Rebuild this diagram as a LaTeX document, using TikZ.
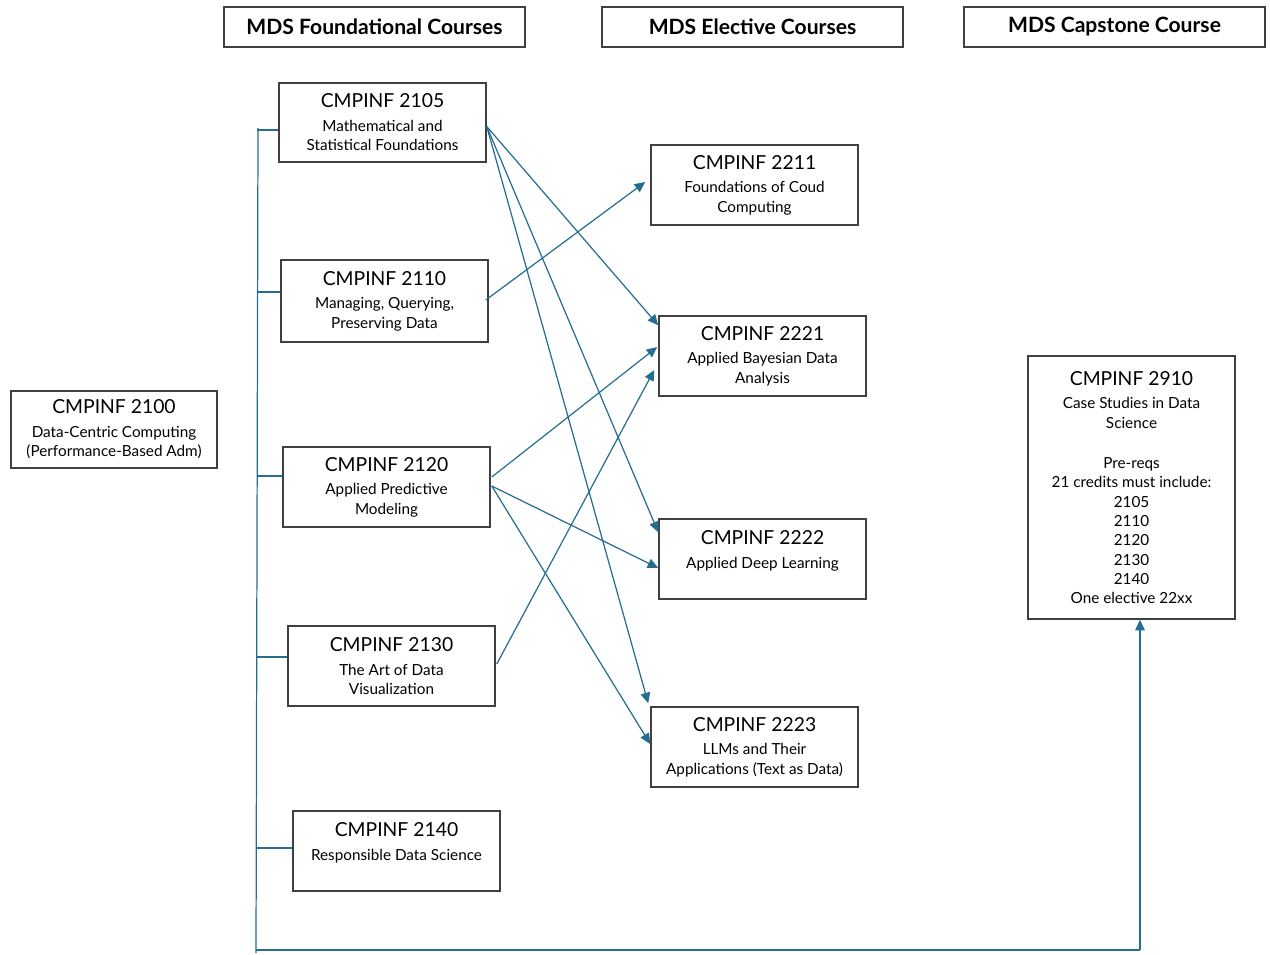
\documentclass[tikz,border=0pt]{standalone}
\usepackage{fontspec}
\setmainfont{Lato}
\usetikzlibrary{calc,arrows.meta}
\definecolor{linkblue}{RGB}{38,110,145}
\definecolor{boxgray}{RGB}{64,64,64}
\tikzset{
  course/.style={draw=boxgray,line width=0.9pt,minimum width=4.14cm,minimum height=1.6cm,
    align=center,inner sep=2pt,font=\fontsize{8.7}{11}\selectfont},
  header/.style={draw=boxgray,line width=0.9pt,minimum width=6.02cm,minimum height=0.8cm,
    font=\fontsize{12}{14}\selectfont\bfseries},
  link/.style={linkblue,line width=0.7pt},
  arr/.style={link,-{Triangle[length=6pt,width=5.5pt]}}
}
\newcommand{\ctitle}[1]{{\fontsize{11}{13}\selectfont #1}\\[2.5pt]}
\begin{document}
\begin{tikzpicture}[x=0.02cm,y=-0.02cm]
  \useasboundingbox (0,0) rectangle (1270,954);
  % column headers
  \node[header] (hdrF) at (374.5,27) {MDS Foundational Courses};
  \node[header] (hdrE) at (752.5,27) {MDS Elective Courses};
  \node[header] (hdrC) at (1114.5,27) {MDS Capstone Course};
  % foundational courses
  \node[course,minimum height=1.58cm] (n2105) at (382.5,122.5) {\ctitle{CMPINF 2105}Mathematical and\\Statistical Foundations};
  \node[course,minimum height=1.64cm] (n2110) at (384.5,301) {\ctitle{CMPINF 2110}Managing, Querying,\\Preserving Data};
  \node[course] (n2120) at (386.5,487) {\ctitle{CMPINF 2120}Applied Predictive\\Modeling};
  \node[course] (n2130) at (391.5,666) {\ctitle{CMPINF 2130}The Art of Data\\Visualization};
  \node[course] (n2140) at (396.5,851) {\ctitle{CMPINF 2140}Responsible Data Science\\\mbox{}};
  \node[course,minimum height=1.54cm,minimum width=4.12cm] (n2100) at (114,429.5) {\ctitle{CMPINF 2100}Data-Centric Computing\\(Performance-Based Adm)};
  % elective courses
  \node[course] (n2211) at (754.5,185) {\ctitle{CMPINF 2211}Foundations of Coud\\Computing};
  \node[course] (n2221) at (762.5,356) {\ctitle{CMPINF 2221}Applied Bayesian Data\\Analysis};
  \node[course] (n2222) at (762.5,559) {\ctitle{CMPINF 2222}Applied Deep Learning\\\mbox{}};
  \node[course] (n2223) at (754.5,747) {\ctitle{CMPINF 2223}LLMs and Their\\Applications (Text as Data)};
  % capstone
  \node[course,minimum height=5.26cm] (n2910) at (1131.5,487.5) {\ctitle{CMPINF 2910}Case Studies in Data\\Science\\[12pt]
    Pre-reqs\\21 credits must include:\\2105\\2110\\2120\\2130\\2140\\One elective 22xx};
  % bracket on the left
  \coordinate (btop) at (258,128);
  \coordinate (bl) at (256,953);
  \coordinate (br) at (1140,950);
  \draw[link] (btop) -- (bl);
  \foreach \n/\y in {2105/130,2110/292,2120/476,2130/657,2140/848}
    \draw[link] (257,\y) -- ($(n\n.west |- 0,\y)$);
  \draw[link] ($(bl)+(0,-3)$) -- (br);
  \draw[arr] (br) -- (br |- n2910.south);
  % prerequisite arrows
  \draw[arr] ($(n2105.east)+(0,4)$) -- ($(n2221.north west)+(0,10)$);
  \draw[arr] ($(n2105.east)+(0,4)$) -- ($(n2222.north west)+(0,14)$);
  \draw[arr] ($(n2105.east)+(0,4)$) -- ($(n2223.north west)+(-2,-3)$);
  \draw[arr] ($(n2110.east)+(-3,-1)$) -- ($(n2211.west)+(-5,-3)$);
  \draw[arr] ($(n2120.east)+(1,-10)$) -- ($(n2221.west)+(-1,-9)$);
  \draw[arr] ($(n2120.east)+(1,-1)$) -- ($(n2222.west)+(0,9)$);
  \draw[arr] ($(n2120.east)+(1,-1)$) -- ($(n2223.west)+(0,-3)$);
  \draw[arr] ($(n2130.east)+(1,-2)$) -- ($(n2221.west)+(-4,14)$);
\end{tikzpicture}
\end{document}
